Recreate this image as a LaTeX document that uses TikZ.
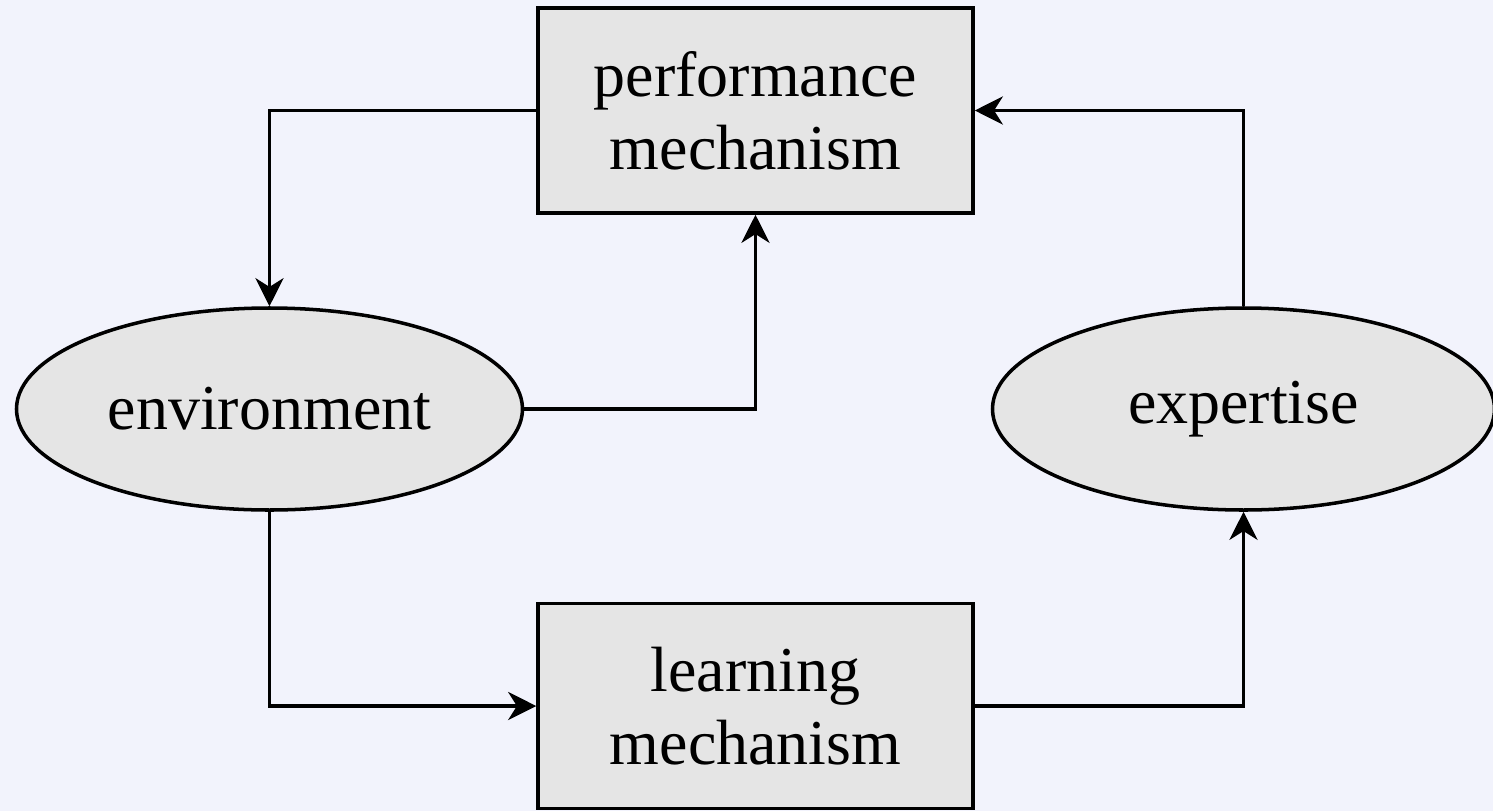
\documentclass[tikz,border=0pt]{standalone}
\usepackage{fontspec}
\setmainfont{Liberation Serif}
\usepackage{tikz}
\usepackage{xcolor}
\usetikzlibrary{shapes.geometric, arrows.meta, positioning}

\definecolor{pagebg}{HTML}{F2F3FC}
\definecolor{boxfill}{HTML}{E5E5E5}

\begin{document}
\begin{tikzpicture}[node distance=2.985cm, font=\fontsize{18.2}{20.7}\selectfont]
    \tikzstyle{mechanism} = [rectangle, minimum width=4.35cm, minimum height=2.05cm, align=center, draw=black, line width=1pt, fill=boxfill]
    \tikzstyle{store} = [ellipse, inner sep=0pt, minimum width=5.02cm, minimum height=2.02cm, text centered, draw=black, line width=1pt, fill=boxfill]
    \tikzstyle{arrow} = [line width=0.9pt, -{Stealth[length=8pt, width=8pt, inset=2.5pt]}]

    \useasboundingbox[fill=pagebg] (-7.555,-7.005) rectangle (7.375,1.105);

    \node (perf) [mechanism] {performance\\mechanism};
    \node (learn) [mechanism, below of=perf, yshift=-2.97cm] {learning\\mechanism};
    \node (env) [store, below of=perf, xshift=-4.86cm, minimum width=5.06cm] {environment};
    \node (exp) [store, below of=perf, xshift=4.88cm] {expertise};

    \draw [arrow] (perf.west) -| (env.north);
    \draw [arrow] (env.east) -| (perf.south);
    \draw [arrow] (exp.north) |- (perf.east);
    \draw [arrow] (env.south) |- (learn.west);
    \draw [arrow] (learn.east) -| (exp.south);
\end{tikzpicture}
\end{document}
